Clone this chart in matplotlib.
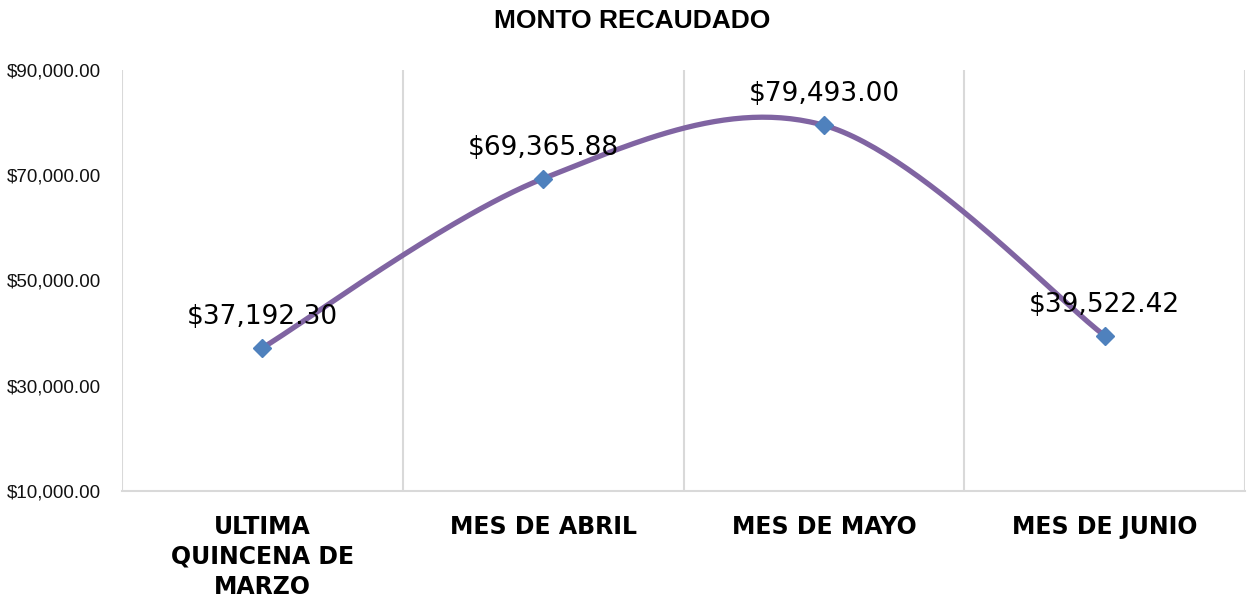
import matplotlib
matplotlib.use("Agg")
import matplotlib.pyplot as plt
import numpy as np
from matplotlib.ticker import FuncFormatter

categories = ["ULTIMA\nQUINCENA DE\nMARZO", "MES DE ABRIL", "MES DE MAYO", "MES DE JUNIO"]
montos = [37192.30, 69365.88, 79493.00, 39522.42]
y_ticks = [10000, 30000, 50000, 70000, 90000]

line_color = "#8064A2"
marker_color = "#4F81BD"
grid_color = "#D9D9D9"


def smooth_curve(xs, ys, n=60):
    # Excel style smoothed line: cubic bezier, control points from neighbours / 6
    pts = np.column_stack([xs, ys]).astype(float)
    out = []
    for i in range(len(pts) - 1):
        p_prev = pts[i - 1] if i > 0 else pts[i]
        p0 = pts[i]
        p1 = pts[i + 1]
        p_next = pts[i + 2] if i + 2 < len(pts) else pts[i + 1]
        c1 = p0 + (p1 - p_prev) / 6
        c2 = p1 - (p_next - p0) / 6
        t = np.linspace(0, 1, n)[:, None]
        seg = ((1 - t) ** 3) * p0 + 3 * ((1 - t) ** 2) * t * c1 + 3 * (1 - t) * t ** 2 * c2 + t ** 3 * p1
        out.append(seg if i == 0 else seg[1:])
    curve = np.vstack(out)
    return curve[:, 0], curve[:, 1]


x = np.arange(len(categories))
cx, cy = smooth_curve(x, montos)

fig = plt.figure(figsize=(12.51, 6.05), dpi=100)
ax = fig.add_axes([122 / 1251, 1 - 491 / 605, (1245 - 122) / 1251, (491 - 70) / 605])

ax.plot(cx, cy, color=line_color, lw=3.8, solid_capstyle="round", zorder=3)
ax.plot(x, montos, linestyle="none", marker="D", markersize=9,
        color=marker_color, zorder=4)

for xi, v in zip(x, montos):
    ax.annotate(f"${v:,.2f}", (xi, v), xytext=(0, 13), textcoords="offset points",
                ha="center", va="bottom", fontsize=19, family="DejaVu Sans",
                color="black", zorder=5)

ax.set_xlim(-0.5, len(categories) - 0.5)
ax.set_ylim(10000, 90000)
ax.set_yticks(y_ticks)
ax.yaxis.set_major_formatter(FuncFormatter(lambda v, p: f"${v:,.2f}"))

# vertical grid between categories
for b in np.arange(-0.5, len(categories), 1.0):
    ax.axvline(b, color=grid_color, lw=1.5, zorder=1)

for s in ["top", "right", "left"]:
    ax.spines[s].set_visible(False)
ax.spines["bottom"].set_color(grid_color)
ax.spines["bottom"].set_linewidth(1.5)

ax.set_xticks(x)
ax.set_xticklabels(categories, fontsize=17, fontweight="bold", family="DejaVu Sans",
                   linespacing=1.33)
ax.tick_params(axis="x", length=0, pad=17)
ax.tick_params(axis="y", length=0, pad=15, labelsize=13.5)
for lab in ax.get_yticklabels():
    lab.set_family("Liberation Sans")
    lab.set_color("#111111")

fig.text(0.505, 1 - 21 / 605, "MONTO RECAUDADO", ha="center", va="center",
         fontsize=19, fontweight="bold", family="Liberation Sans")

fig.savefig("out.png", dpi=100)
